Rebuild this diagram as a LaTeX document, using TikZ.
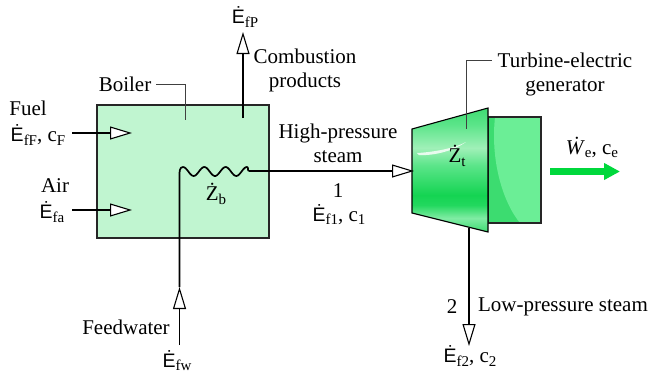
\documentclass[tikz,border=0pt]{standalone}
\usepackage{fontspec}
\usepackage{xcolor}
\usetikzlibrary{arrows.meta}
\setmainfont{Liberation Serif}
\newfontfamily\sansE{Liberation Sans}
\definecolor{boilergreen}{HTML}{C0F5D0}
\definecolor{gendark}{HTML}{3CDC70}
\definecolor{genlight}{HTML}{6BEE96}
\definecolor{powergreen}{HTML}{00D83C}
\definecolor{turbmid}{HTML}{3FDC72}
\definecolor{turbmid2}{HTML}{5CE58A}
\definecolor{turblite}{HTML}{A0F0B8}
\definecolor{turblite2}{HTML}{80ECA4}
\definecolor{turbdeep}{HTML}{14D452}
\definecolor{turbdeep2}{HTML}{22D85E}
\pgfdeclareverticalshading{turbineshade}{100bp}{
  color(0bp)=(turbmid); color(25bp)=(turbmid);
  color(30.6bp)=(turblite2); color(35.9bp)=(turbdeep2); color(39.9bp)=(turbdeep);
  color(52bp)=(turbmid2); color(58.9bp)=(turblite); color(68.1bp)=(turbmid2);
  color(75bp)=(turbmid); color(100bp)=(turbmid)}
\newcommand{\Ed}{{\sansE\fontsize{19.5}{19.5}\selectfont Ė}}
\newcommand{\sbs}[1]{\raisebox{-0.35ex}{\fontsize{15}{15}\selectfont #1}}
\tikzset{
  lbl/.style={inner sep=0pt,font=\fontsize{21}{24}\selectfont,align=center},
  pipe/.style={line width=1.7pt,black},
  flow/.style={pipe,-{Triangle[open,fill=white,length=22pt,width=13pt,line width=1.1pt]}},
  leader/.style={line width=0.9pt,black!75}
}
\begin{document}
\begin{tikzpicture}[x=1pt,y=-1pt]
  \useasboundingbox (0,0) rectangle (649,378);
  % boiler
  \node[draw=black!85,line width=1.1pt,fill=boilergreen,minimum width=172pt,minimum height=133pt,inner sep=0pt] (boiler) at (183,171.5) {};
  % turbine and generator
  \fill[gendark] (488,117) rectangle (541,223);
  \fill[genlight] (495,117) .. controls (490,165) and (505,205) .. (520,223) -- (541,223) -- (541,117) -- cycle;
  \draw[line width=1.1pt,black!85] (488,117) rectangle (541,223);
  \shade[shading=turbineshade] (412,129) -- (488,108) -- (488,232) -- (412,213) -- cycle;
  \fill[white,opacity=0.8] (417,153) .. controls (435,152) and (455,148) .. (466,142) .. controls (455,150) and (435,156) .. (419,155) -- cycle;
  \draw[line width=1.1pt,black] (412,129) -- (488,108) -- (488,232) -- (412,213) -- cycle;
  % ends of the connectors
  \coordinate (fuelin) at (72,133);
  \coordinate (fueltip) at (132,133);
  \coordinate (airin) at (72,210);
  \coordinate (airtip) at (132,210);
  \coordinate (prodin) at (243,118);
  \coordinate (prodtip) at (243,32);
  \coordinate (fwin) at (179.5,345);
  \coordinate (fwtip) at (179.5,287);
  \coordinate (coilin) at (179.5,175);
  \coordinate (coilout) at (249,171);
  \coordinate (steamtip) at (414,171);
  \coordinate (lowin) at (469,228);
  \coordinate (lowtip) at (469,346);
  \coordinate (powerin) at (550,171.5);
  \coordinate (powertip) at (620,171.5);
  % flows
  \draw[flow] (fuelin) -- (fueltip);
  \draw[flow] (airin) -- (airtip);
  \draw[flow] (prodin) -- (prodtip);
  \draw[flow] (fwin) -- (fwtip);
  \draw[pipe] (fwtip) -- (coilin) to[out=90,in=180] (183,167)
    -- plot[domain=183:247,samples=50,smooth] (\x,{171.5-4.5*cos((\x-183)/21.3*360)})
    to[out=0,in=180] (coilout);
  \draw[flow] (coilout) -- (steamtip);
  \draw[flow] (lowin) -- (lowtip);
  \draw[-{Triangle[length=16pt,width=16pt]},line width=7pt,powergreen] (powerin) -- (powertip);
  % leaders
  \coordinate (boilerlead) at (185,120);
  \coordinate (turblead) at (466,129);
  \node[lbl] (boilerlbl) at (125,84) {Boiler};
  \node[lbl] (turblbl) at (565,74.5) {Turbine-electric\\generator};
  \draw[leader] (boilerlbl.east) ++(5,0) -| (boilerlead);
  \draw[leader] (turblbl.west |- 0,60.5) ++(-6,0) -| (turblead);
  % labels
  \node[lbl] (ftitle) at (28,108) {Fuel};
  \node[lbl] (flbl) at (38,135) {\Ed\sbs{fF}, c\sbs{F}};
  \node[lbl] (atitle) at (55,186) {Air};
  \node[lbl] (albl) at (52,212) {\Ed\sbs{fa}};
  \node[lbl] (zb) at (216,194) {Ż\sbs{b}};
  \node[lbl] (eprod) at (245,17) {\Ed\sbs{fP}};
  \node[lbl] (prodlbl) at (305,70) {Combustion\\products};
  \node[lbl] (steamlbl) at (338,143) {High-pressure\\steam};
  \node[lbl] (one) at (338,191) {1};
  \node[lbl] (e1) at (339,214.5) {\Ed\sbs{f1}, c\sbs{1}};
  \node[lbl] (fwlbl) at (126,327) {Feedwater};
  \node[lbl] (efw) at (177,360.5) {\Ed\sbs{fw}};
  \node[lbl] (zt) at (457,156) {Ż\sbs{t}};
  \node[lbl] (we) at (592,147.5) {\textit{Ẇ}\sbs{e}, c\sbs{e}};
  \node[lbl] (two) at (452,307) {2};
  \node[lbl] (lowlbl) at (563,307) {Low-pressure steam};
  \node[lbl] (e2) at (470,356) {\Ed\sbs{f2}, c\sbs{2}};
\end{tikzpicture}
\end{document}
